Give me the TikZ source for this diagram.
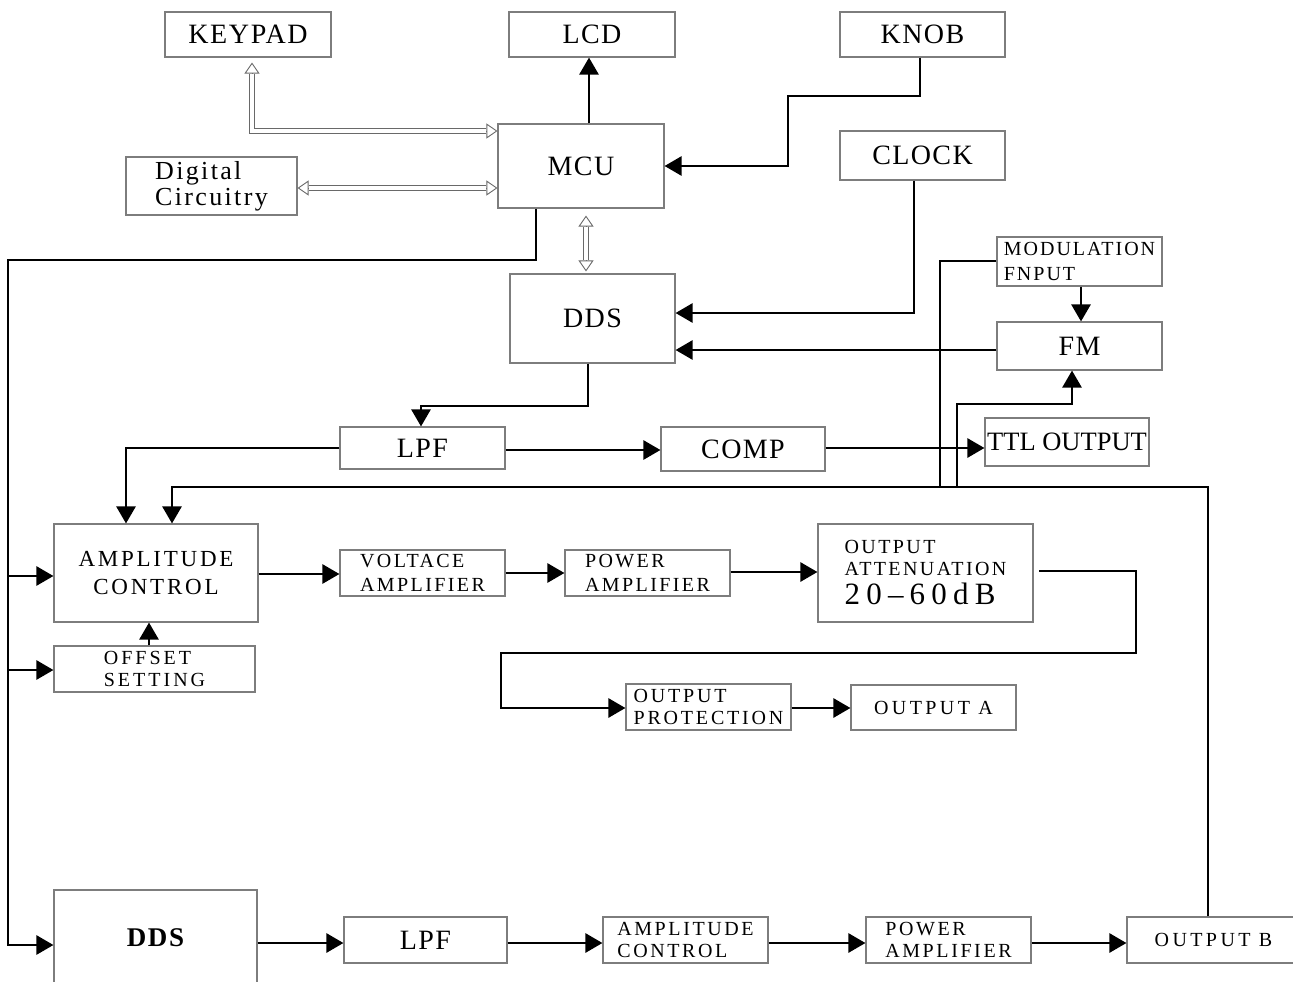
\documentclass[tikz,border=0pt]{standalone}
\usepackage{fontspec}
\setmainfont{Liberation Serif}
\usetikzlibrary{arrows.meta}
\definecolor{boxgray}{RGB}{125,125,125}
\definecolor{dblgray}{RGB}{105,105,105}
\newcommand\FS[3]{\fontsize{#1}{#2}\selectfont\addfontfeature{LetterSpace=#3}}
\newcommand\bx[7][]{\node[box,#1,minimum width={(#5-#3)*1pt},minimum height={(#6-#4)*1pt}] (#2) at ({(#3+#5)/2},{(#4+#6)/2}) {#7};}
\tikzset{
  box/.style={draw=boxgray, line width=1.1pt, inner sep=0pt, align=left, font=\FS{28}{30}{5}},
  small/.style={font=\FS{20}{23}{13}},
  line/.style={draw=black, line width=2.6pt},
  arr/.style={line, -{Triangle[length=17pt,width=19pt]}},
  dbl/.style={draw=dblgray, line width=0.9pt, double=white, double distance=4.5pt},
  dhead/.style={draw=dblgray, line width=0.9pt, -{Triangle[fill=white,length=11pt,width=15pt]}}
}
\begin{document}
\begin{tikzpicture}[x=1pt,y=-1pt]
\useasboundingbox (0,0) rectangle (1293,982);
% boxes
\bx[font=\FS{28}{30}{6}]{keypad}{165}{12}{331}{57}{KEYPAD}
\bx{lcd}{509}{12}{675}{57}{LCD}
\bx{knob}{840}{12}{1005}{57}{KNOB}
\bx{mcu}{498}{124}{664}{208}{MCU}
\bx[font=\FS{26}{26}{9}]{dig}{126}{157}{297}{215}{Digital\\Circuitry}
\bx{clock}{840}{131}{1005}{180}{CLOCK}
\bx{dds}{510}{274}{675}{363}{DDS}
\bx[font=\FS{20}{25}{10}]{mod}{997}{237}{1162}{286}{MODULATION\\FNPUT}
\bx{fm}{997}{322}{1162}{370}{FM}
\bx{lpf}{340}{427}{505}{469}{LPF}
\bx{comp}{661}{427}{825}{471}{COMP}
\bx[font=\FS{26.5}{28}{0}]{ttl}{985}{418}{1149}{466}{TTL OUTPUT}
\bx[font=\FS{23}{28}{12},align=center]{ac}{54}{524}{258}{622}{AMPLITUDE\\CONTROL}
\bx[small,font=\FS{20}{24}{12}]{va}{340}{550}{505}{596}{VOLTACE\\AMPLIFIER}
\bx[small,font=\FS{20}{24}{12}]{pa}{565}{550}{730}{596}{POWER\\AMPLIFIER}
\bx[font=\FS{20}{22}{12}]{oa}{818}{524}{1033}{622}{OUTPUT\\ATTENUATION\\[7pt]{\FS{31}{31}{20}20–60dB}}
\bx[font=\FS{20}{22}{15}]{off}{54}{646}{255}{692}{OFFSET\\SETTING}
\bx[font=\FS{20}{22}{14}]{op}{626}{684}{791}{730}{OUTPUT\\PROTECTION}
\bx[font=\FS{20}{22}{17}]{outa}{851}{685}{1016}{730}{OUTPUT A}
\bx[font=\FS{27}{30}{6}\bfseries]{ddsb}{54}{890}{257}{985}{DDS}
\bx{lpfb}{344}{917}{507}{963}{LPF}
\bx[font=\FS{20}{22}{13}]{acb}{603}{917}{768}{963}{AMPLITUDE\\CONTROL}
\bx[font=\FS{20}{22}{13}]{pab}{866}{917}{1031}{963}{POWER\\AMPLIFIER}
\bx[font=\FS{20}{22}{17}]{outb}{1127}{917}{1300}{963}{OUTPUT B}
% double (bus) arrows
\coordinate (kpA) at (keypad.south -| 252,0);
\coordinate (kpB) at (mcu.west |- 0,131);
\draw[dbl] ([yshift=-16pt]kpA) |- ([xshift=-11pt]kpB);
\draw[dhead] ([yshift=-16pt]kpA) -- ([yshift=-5pt]kpA);
\draw[dhead] ([xshift=-11pt]kpB) -- (kpB);
\coordinate (dgA) at (dig.east |- 0,188);
\coordinate (dgB) at (mcu.west |- 0,188);
\draw[dbl] ([xshift=11pt]dgA) -- ([xshift=-11pt]dgB);
\draw[dhead] ([xshift=11pt]dgA) -- (dgA);
\draw[dhead] ([xshift=-11pt]dgB) -- (dgB);
\coordinate (mdA) at (mcu.south -| 586,0);
\coordinate (mdB) at (dds.north -| 586,0);
\draw[dbl] ([yshift=-18pt]mdA) -- ([yshift=13pt]mdB);
\draw[dhead] ([yshift=-18pt]mdA) -- ([yshift=-7pt]mdA);
\draw[dhead] ([yshift=13pt]mdB) -- ([yshift=2pt]mdB);
% signal arrows
\draw[arr] (mcu.north -| 589,0) -- (lcd.south -| 589,0);
\coordinate (kn) at (788,96);
\draw[arr] (knob.south -| 920,0) |- (kn) |- (mcu.east);
\draw[arr] (clock.south -| 914,0) |- (dds.east |- 0,313);
\draw[arr] (fm.west |- 0,350) -- (dds.east |- 0,350);
\draw[arr] (mod.south -| 1081,0) -- (fm.north -| 1081,0);
\coordinate (dl) at (421,406);
\draw[arr] (dds.south -| 588,0) |- (dl) -- (lpf.north -| dl);
\draw[arr] (lpf.west |- 0,448) -| (ac.north -| 126,0);
\draw[arr] (lpf.east |- 0,450) -- (comp.west |- 0,450);
\draw[arr] (comp.east |- 0,448) -- (ttl.west |- 0,448);
% feedback from output B
\coordinate (fbR) at (1208,487);
\coordinate (fbL) at (172,487);
\coordinate (j1) at (940,487);
\coordinate (j2) at (957,487);
\coordinate (fmB) at (1072,404);
\draw[arr] (outb.north -| fbR) -- (fbR) -- (fbL) -- (ac.north -| fbL);
\draw[line] (j1) |- (mod.west |- 0,261);
\draw[arr] (j2) |- (fmB) -- (fm.south -| fmB);
% MCU control bus
\coordinate (bus0) at (8,260);
\coordinate (bus1) at (8,576);
\coordinate (bus2) at (8,670);
\coordinate (bus3) at (8,945);
\draw[arr] (mcu.south -| 536,0) |- (bus0) |- (ddsb.west |- bus3);
\draw[arr] (bus1) -- (ac.west |- bus1);
\draw[arr] (bus2) -- (off.west |- bus2);
% channel A chain
\draw[arr] (off.north -| 149,0) -- (ac.south -| 149,0);
\draw[arr] (ac.east |- 0,574) -- (va.west |- 0,574);
\draw[arr] (va.east |- 0,573) -- (pa.west |- 0,573);
\draw[arr] (pa.east |- 0,572) -- (oa.west |- 0,572);
\coordinate (oaS) at (1039,571);
\coordinate (oa1) at (1136,653);
\coordinate (oa2) at (501,708);
\draw[arr] (oaS) -| (oa1) -| (oa2) -- (op.west |- oa2);
\draw[arr] (op.east |- 0,708) -- (outa.west |- 0,708);
% channel B chain
\draw[arr] (ddsb.east |- 0,943) -- (lpfb.west |- 0,943);
\draw[arr] (lpfb.east |- 0,943) -- (acb.west |- 0,943);
\draw[arr] (acb.east |- 0,943) -- (pab.west |- 0,943);
\draw[arr] (pab.east |- 0,943) -- (outb.west |- 0,943);
\end{tikzpicture}
\end{document}
